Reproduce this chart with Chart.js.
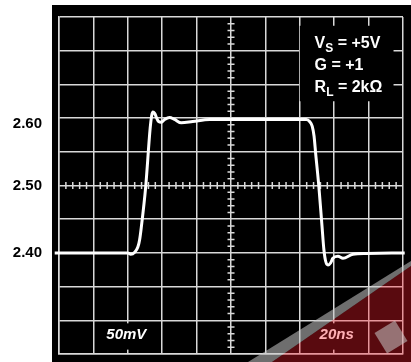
<!DOCTYPE html>
<html>
<head>
<meta charset="utf-8">
<script src="https://cdn.jsdelivr.net/npm/chart.js@4.4.1/dist/chart.umd.min.js"></script>
<style>
  html, body { margin: 0; padding: 0; background: #fff; }
  #wrap { width: 411px; height: 362px; position: relative; }
</style>
</head>
<body>
<div id="wrap"><canvas id="scopeChart"></canvas></div>
<script>
// ---------- DATA ----------
// time in ns (10 div x 20ns), output in volts (50mV/div)
const timeNs = [-2.5, 40, 41.7, 44, 45.9, 46.9, 47.8, 50.4, 53.0, 53.9, 54.6,
  55.6, 56.8, 57.9, 59.5, 61.4, 64.3, 67.2, 71.1, 77.7, 87.6, 143.8, 145.7, 147.2, 148.3,
  149.2, 151.1, 152.9, 154.0, 155.0, 156.4, 157.9, 159.2, 162.2, 165.1, 170.9, 178.7, 201];
const volts = [2.400, 2.400, 2.398, 2.401, 2.409, 2.420, 2.437, 2.498, 2.585, 2.604, 2.609,
  2.607, 2.600, 2.595, 2.594, 2.598, 2.601, 2.598, 2.593, 2.595, 2.598, 2.598, 2.595, 2.588, 2.573,
  2.548, 2.498, 2.440, 2.405, 2.388, 2.382, 2.385, 2.392, 2.395, 2.392, 2.398, 2.399, 2.400];
const yLabelValues = [2.40, 2.50, 2.60];
const noteLines = [["V", "S", " = +5V"], ["G = +1", "", ""], ["R", "L", " = 2k\u03A9"]];
const scaleLabels = ["50mV", "20ns"];

const gridColor = "#d9d9d9";
const fontFamily = '"Liberation Sans", Arial, sans-serif';
const boldFont = "bold 16px " + fontFamily;

// ---------- SCOPE DECORATIONS ----------
const scopeDecor = {
  id: "scopeDecor",
  beforeDraw(chart) {
    const { ctx, chartArea: a, width, height } = chart;
    ctx.save();
    ctx.fillStyle = "#000";
    ctx.fillRect(a.left - 7, a.top - 12, width - a.left + 7, height - a.top + 12);
    ctx.restore();
  },
  beforeDatasetsDraw(chart) {
    const { ctx, scales: { x, y } } = chart;
    const cx = x.getPixelForValue(100);
    const cy = y.getPixelForValue(2.5);
    ctx.save();
    // minor ticks on the centre cross
    ctx.strokeStyle = gridColor;
    ctx.lineWidth = 1.5;
    ctx.beginPath();
    for (let t = 0; t <= 200; t += 4) {
      if (t % 20 === 0) continue;
      const px = x.getPixelForValue(t);
      ctx.moveTo(px, cy - 3.5);
      ctx.lineTo(px, cy + 3.5);
    }
    for (let k = 1; k < 50; k++) {
      if (k % 5 === 0) continue;
      const py = y.getPixelForValue(2.25 + k * 0.01);
      ctx.moveTo(cx - 3.5, py);
      ctx.lineTo(cx + 3.5, py);
    }
    ctx.stroke();
    // black boxes behind the texts
    ctx.fillStyle = "#000";
    const box = (x0, x1, y0, y1) => {
      const l = x.getPixelForValue(x0), r = x.getPixelForValue(x1);
      const t = y.getPixelForValue(y0), b = y.getPixelForValue(y1);
      ctx.fillRect(l, t, r - l, b - t);
    };
    box(140, 194.5, 2.737, 2.625);
    box(23.5, 55.5, 2.2955, 2.2565);
    box(147.5, 173, 2.2955, 2.2565);
    ctx.restore();
  },
  afterDatasetsDraw(chart) {
    const { ctx, scales: { x, y } } = chart;
    ctx.save();
    ctx.fillStyle = "#fff";
    ctx.textBaseline = "alphabetic";
    const left = x.getPixelForValue(148.6);
    const base0 = y.getPixelForValue(2.7036);
    noteLines.forEach((ln, i) => {
      const by = base0 + i * 22;
      let px = left;
      ctx.font = boldFont;
      ctx.fillText(ln[0], px, by);
      px += ctx.measureText(ln[0]).width;
      if (ln[1]) {
        ctx.font = "bold 12px " + fontFamily;
        ctx.fillText(ln[1], px, by + 4);
        px += ctx.measureText(ln[1]).width;
      }
      ctx.font = boldFont;
      ctx.fillText(ln[2], px, by);
    });
    ctx.font = "italic bold 15px " + fontFamily;
    const lb = y.getPixelForValue(2.2717);
    ctx.fillText(scaleLabels[0], x.getPixelForValue(27.5), lb);
    ctx.fillText(scaleLabels[1], x.getPixelForValue(151.5), lb);
    ctx.restore();
  },
  afterDraw(chart) {
    // red watermark in the corner
    const { ctx, width, height } = chart;
    ctx.save();
    ctx.fillStyle = "rgba(200,200,200,0.55)";
    ctx.beginPath();
    ctx.moveTo(248, height);
    ctx.lineTo(width, 261);
    ctx.lineTo(width, 266);
    ctx.lineTo(272, height);
    ctx.closePath();
    ctx.fill();
    ctx.fillStyle = "rgba(255,28,42,0.35)";
    ctx.beginPath();
    ctx.moveTo(272, height);
    ctx.lineTo(width, 266);
    ctx.lineTo(width, height);
    ctx.closePath();
    ctx.fill();
    ctx.translate(391, 337);
    ctx.rotate(-0.55);
    ctx.fillStyle = "rgba(200,200,200,0.55)";
    ctx.fillRect(-12, -12, 24, 24);
    ctx.restore();
  }
};

// ---------- CHART ----------
new Chart(document.getElementById("scopeChart"), {
  type: "line",
  data: {
    datasets: [{
      data: timeNs.map((t, i) => ({ x: t, y: volts[i] })),
      borderColor: "#fff",
      borderWidth: 3,
      pointRadius: 0,
      cubicInterpolationMode: "monotone",
      clip: false
    }]
  },
  options: {
    responsive: true,
    maintainAspectRatio: false,
    animation: false,
    layout: { padding: { left: 0, right: 8, top: 17, bottom: 8 } },
    plugins: { legend: { display: false }, tooltip: { enabled: false } },
    scales: {
      x: {
        type: "linear",
        min: 0,
        max: 200,
        ticks: { display: false, stepSize: 20 },
        grid: { color: gridColor, lineWidth: 1.5, drawTicks: false },
        border: { color: gridColor, width: 1.5 },
        afterFit: (s) => {
          s.height = 0;
          s.paddingLeft = s.paddingRight = s.paddingTop = s.paddingBottom = 0;
        }
      },
      y: {
        min: 2.25,
        max: 2.75,
        afterFit: (s) => {
          s.width = 59;
          s.paddingLeft = s.paddingRight = s.paddingTop = s.paddingBottom = 0;
        },
        ticks: {
          stepSize: 0.05,
          autoSkip: false,
          padding: 17,
          color: "#000",
          font: { family: fontFamily, size: 15, weight: "bold", lineHeight: "12px" },
          callback: (v) => {
            if (!yLabelValues.some((l) => Math.abs(l - v) < 1e-6)) return "";
            // the top label sits just under its grid line in the original
            return Math.abs(v - 2.6) < 1e-6 ? ["", v.toFixed(2)] : v.toFixed(2);
          }
        },
        grid: { color: gridColor, lineWidth: 1.5, drawTicks: false },
        border: { color: gridColor, width: 1.5 }
      }
    }
  },
  plugins: [scopeDecor]
});
</script>
</body>
</html>
